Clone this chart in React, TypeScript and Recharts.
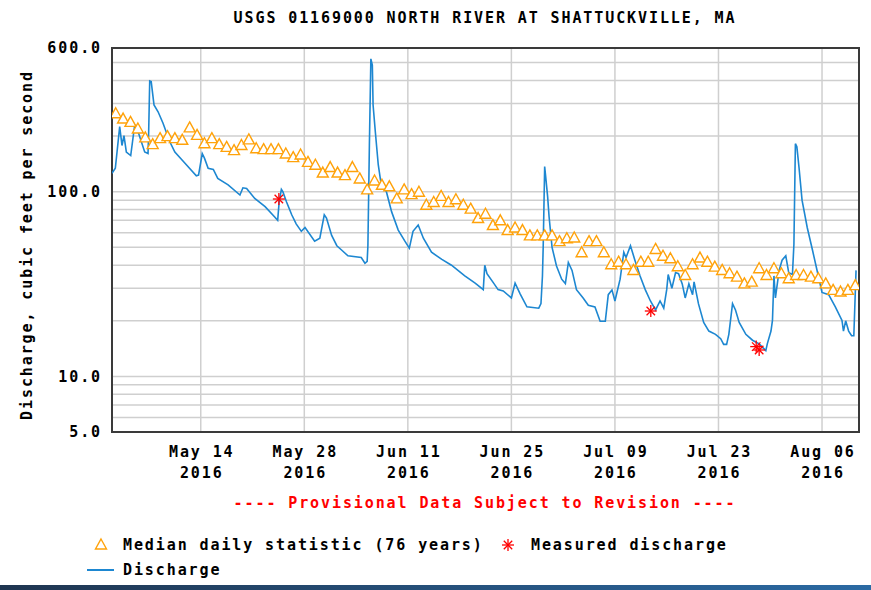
import { ComposedChart, Line, Scatter, XAxis, YAxis, CartesianGrid, ReferenceArea } from 'recharts';

// days counted from May 2 2016, 00:00
const dischargeDays = [
  0.0, 0.45, 1.04, 1.35, 1.62, 1.94, 2.53, 3.07, 3.52, 4.42, 4.87, 4.96, 5.1, 5.3, 5.68, 6.23, 6.9, 7.8, 8.5, 9.84,
  11.4, 11.7, 12.2, 12.5, 13.0, 13.7, 14.3, 15.7, 17.3, 17.7, 18.2, 19.3, 20.7, 22.0, 22.4, 22.6, 22.9, 23.1, 23.6, 24.3,
  24.9, 25.6, 26.1, 27.4, 28.1, 28.7, 29.0, 29.7, 30.4, 31.0, 31.9, 33.7, 34.2, 34.5, 34.6, 34.8, 35.0, 35.2, 35.3, 35.6,
  36.0, 36.4, 37.1, 37.8, 38.7, 39.6, 40.2, 40.7, 41.4, 42.1, 43.2, 44.6, 45.9, 47.7, 49.1, 50.2, 50.4, 50.7, 51.6, 52.2,
  52.9, 54.0, 54.5, 55.2, 56.1, 57.7, 58.0, 58.2, 58.3, 58.5, 58.6, 58.9, 59.1, 59.5, 60.1, 60.8, 61.3, 61.7, 62.2, 62.8,
  63.7, 64.4, 65.3, 66.0, 66.7, 67.1, 67.6, 68.0, 68.7, 69.2, 69.5, 70.1, 70.7, 71.4, 72.1, 72.8, 73.5, 74.1, 74.6, 75.0,
  75.2, 75.7, 76.2, 76.6, 77.1, 77.5, 78.0, 78.5, 78.7, 79.3, 80.0, 80.7, 81.6, 82.3, 82.7, 83.1, 83.4, 83.9, 84.3, 84.8,
  85.7, 86.6, 87.5, 88.4, 88.6, 89.1, 89.3, 89.5, 89.7, 90.2, 90.6, 91.1, 91.5, 92.0, 92.2, 92.4, 92.6, 92.9, 93.3, 94.0,
  94.7, 95.4, 96.0, 96.9, 97.8, 98.7, 98.9, 99.2, 99.6, 100.0, 100.3, 100.6,
];
const dischargeCfs = [
  126, 134, 225, 178, 201, 164, 157, 230, 212, 164, 161, 212, 398, 395, 295, 271, 235, 187, 164, 143,
  122, 123, 161, 152, 134, 132, 118, 109, 96, 105, 104, 92, 83, 73, 70, 88, 103, 100, 88, 75,
  67, 61, 64, 54, 56, 75, 72, 58, 51, 48.5, 45, 44, 41, 42, 51, 178, 524, 485, 295, 212,
  140, 109, 100, 78, 62, 54, 49.5, 61, 66, 56, 47, 43, 40, 35, 32, 29.5, 40, 36, 32, 29.5,
  29, 26.6, 32, 27.9, 23.8, 23.4, 24.8, 35, 50, 137, 125, 94, 73, 50, 39.6, 33.6, 31.8, 41.4, 37.5, 29.5,
  26.6, 24.3, 23.8, 19.9, 19.9, 27.7, 29.4, 25.6, 33.6, 47, 44, 51, 42.6, 35, 29.5, 25.6, 22.9, 25.6, 23.4, 29.5,
  35.6, 30, 36.5, 36, 31.7, 26.6, 31.7, 27.7, 32.5, 24.7, 19.6, 17.6, 16.9, 16, 14.9, 14.9, 16.9, 24.8, 22.9, 19.6,
  16.9, 15.7, 15, 13.8, 15, 17.6, 20.1, 35, 26.6, 37.5, 42.6, 45, 36.4, 35.6, 52, 182, 175, 134, 90, 64,
  48.5, 36.4, 28.5, 27.7, 23.8, 20.1, 17.6, 20, 17.6, 16.6, 16.6, 37.5,
];

// one median value per day, May 2 .. Aug 11
const medianCfs = [
  266, 249, 239, 220, 197, 181, 195, 200, 195, 191, 223, 203, 183, 195, 181, 175, 168, 179, 192, 172,
  170, 170, 170, 161, 154, 159, 145, 140, 127, 136, 127, 123, 136, 118, 103, 115, 109, 107, 92, 103,
  97, 100, 85, 88, 95, 88, 91, 85, 81, 72, 76, 66, 70, 62, 64, 62, 58, 58, 58, 58,
  54, 56, 56.5, 47, 54, 54, 47, 40.5, 41.8, 40.5, 37.7, 41.8, 41.8, 49, 45, 43.6, 39.5, 35.4, 40.5, 44,
  41.8, 39.3, 37.7, 36.2, 34.7, 31.9, 32.6, 38.5, 35.4, 38.5, 36.2, 34, 35.4, 35.4, 34.7, 34, 31.9, 29.4, 28.8, 29.4,
  31.2,
];

const measuredDays = [22.56, 72.85, 87.1, 87.5];
const measuredCfs = [91.3, 22.6, 14.5, 13.9];

const dateTicks = [12, 26, 40, 54, 68, 82, 96];
const dateLabels = ['May 14', 'May 28', 'Jun 11', 'Jun 25', 'Jul 09', 'Jul 23', 'Aug 06'];
const yearLabel = '2016';

const gridCfs = [5, 6, 7, 8, 9, 10, 20, 30, 40, 50, 60, 70, 80, 90, 100, 200, 300, 400, 500, 600];
const labelledCfs = [5, 10, 100, 600];

const dischargeData = dischargeDays.map((d, i) => ({ d, v: dischargeCfs[i] }));
const medianData = medianCfs.map((v, i) => ({ d: i + 0.5, v }));
const measuredData = measuredDays.map((d, i) => ({ d, v: measuredCfs[i] }));

const FONT = '"DejaVu Sans Mono", monospace';
const ORANGE = '#ffa20a';
const BLUE = '#1d87d1';
const RED = '#ff0000';

const svgText = { fontFamily: FONT, fontWeight: 700, fontSize: 15, letterSpacing: '1.9px', fill: '#000' };

const htmlText = {
  position: 'absolute' as const,
  fontFamily: FONT,
  fontWeight: 700,
  fontSize: 15,
  lineHeight: '15px',
  letterSpacing: '1.9px',
  whiteSpace: 'nowrap' as const,
  color: '#000',
};

const DateTick = (props: any) => {
  const { x, payload } = props;
  const i = dateTicks.indexOf(payload.value);
  return (
    <g>
      <text x={x + 1} y={457} textAnchor="middle" style={svgText}>{dateLabels[i]}</text>
      <text x={x + 1} y={478} textAnchor="middle" style={svgText}>{yearLabel}</text>
    </g>
  );
};

const Triangle = (props: any) => {
  const { cx, cy } = props;
  return (
    <polygon
      points={`${cx},${cy - 5.5} ${cx + 5.5},${cy + 4.5} ${cx - 5.5},${cy + 4.5}`}
      fill="#fff"
      stroke={ORANGE}
      strokeWidth={1.4}
    />
  );
};

const Star = (props: any) => {
  const { cx, cy } = props;
  const r = 6;
  const k = r * 0.707;
  return (
    <g stroke={RED} strokeWidth={1.3}>
      <line x1={cx - r} y1={cy} x2={cx + r} y2={cy} />
      <line x1={cx} y1={cy - r} x2={cx} y2={cy + r} />
      <line x1={cx - k} y1={cy - k} x2={cx + k} y2={cy + k} />
      <line x1={cx - k} y1={cy + k} x2={cx + k} y2={cy - k} />
    </g>
  );
};

export default function App() {
  return (
    <div style={{ position: 'absolute', left: 0, top: 0, width: 871, height: 590, background: '#fff', overflow: 'hidden' }}>
      <ComposedChart width={871} height={590} margin={{ top: 48, right: 12, bottom: 108, left: 0 }}>
        <CartesianGrid stroke="#cfcfcf" strokeWidth={1.5} />
        <XAxis
          type="number"
          dataKey="d"
          domain={[0, 101]}
          ticks={dateTicks}
          interval={0}
          allowDataOverflow
          axisLine={false}
          tickLine={false}
          height={50}
          tick={<DateTick />}
        />
        <YAxis
          type="number"
          dataKey="v"
          scale="log"
          domain={[5, 600]}
          ticks={gridCfs}
          interval={0}
          allowDataOverflow
          width={112}
          axisLine={false}
          tickLine={false}
          tickSize={6}
          tickMargin={4}
          tick={svgText}
          tickFormatter={(v: number) => (labelledCfs.includes(v) ? v.toFixed(1) : '')}
        />
        <Scatter data={medianData} dataKey="v" shape={<Triangle />} isAnimationActive={false} />
        <Line data={dischargeData} dataKey="v" type="linear" stroke={BLUE} strokeWidth={1.6} dot={false} isAnimationActive={false} />
        <Scatter data={measuredData} dataKey="v" shape={<Star />} isAnimationActive={false} />
        <ReferenceArea x1={0} x2={101} y1={5} y2={600} fill="none" stroke="#3a3a3a" strokeWidth={2} />
      </ComposedChart>

      <div style={{ ...htmlText, left: 485, top: 11, transform: 'translateX(-50%)' }}>
        USGS 01169000 NORTH RIVER AT SHATTUCKVILLE, MA
      </div>
      <div
        style={{ ...htmlText, left: 27, top: 245, transform: 'translate(-50%, -50%) rotate(-90deg)' }}
      >
        Discharge, cubic feet per second
      </div>
      <div style={{ ...htmlText, left: 485, top: 496, transform: 'translateX(-50%)', color: RED }}>
        ---- Provisional Data Subject to Revision ----
      </div>

      <svg style={{ position: 'absolute', left: 0, top: 530 }} width={871} height={50}>
        <polygon points="101,9 106.5,19 95.5,19" fill="#fff" stroke={ORANGE} strokeWidth={1.4} />
        <g stroke={RED} strokeWidth={1.3}>
          <line x1={502} y1={15} x2={514} y2={15} />
          <line x1={508} y1={9} x2={508} y2={21} />
          <line x1={503.8} y1={10.8} x2={512.2} y2={19.2} />
          <line x1={503.8} y1={19.2} x2={512.2} y2={10.8} />
        </g>
        <line x1={87} y1={40} x2={114} y2={40} stroke={BLUE} strokeWidth={2} />
      </svg>
      <div style={{ ...htmlText, left: 123, top: 538 }}>Median daily statistic (76 years)</div>
      <div style={{ ...htmlText, left: 531, top: 538 }}>Measured discharge</div>
      <div style={{ ...htmlText, left: 123, top: 563 }}>Discharge</div>

      <div
        style={{
          position: 'absolute',
          left: 0,
          top: 585,
          width: 871,
          height: 5,
          background: 'linear-gradient(to right, #1f3550, #2b6aa3)',
        }}
      />
    </div>
  );
}
